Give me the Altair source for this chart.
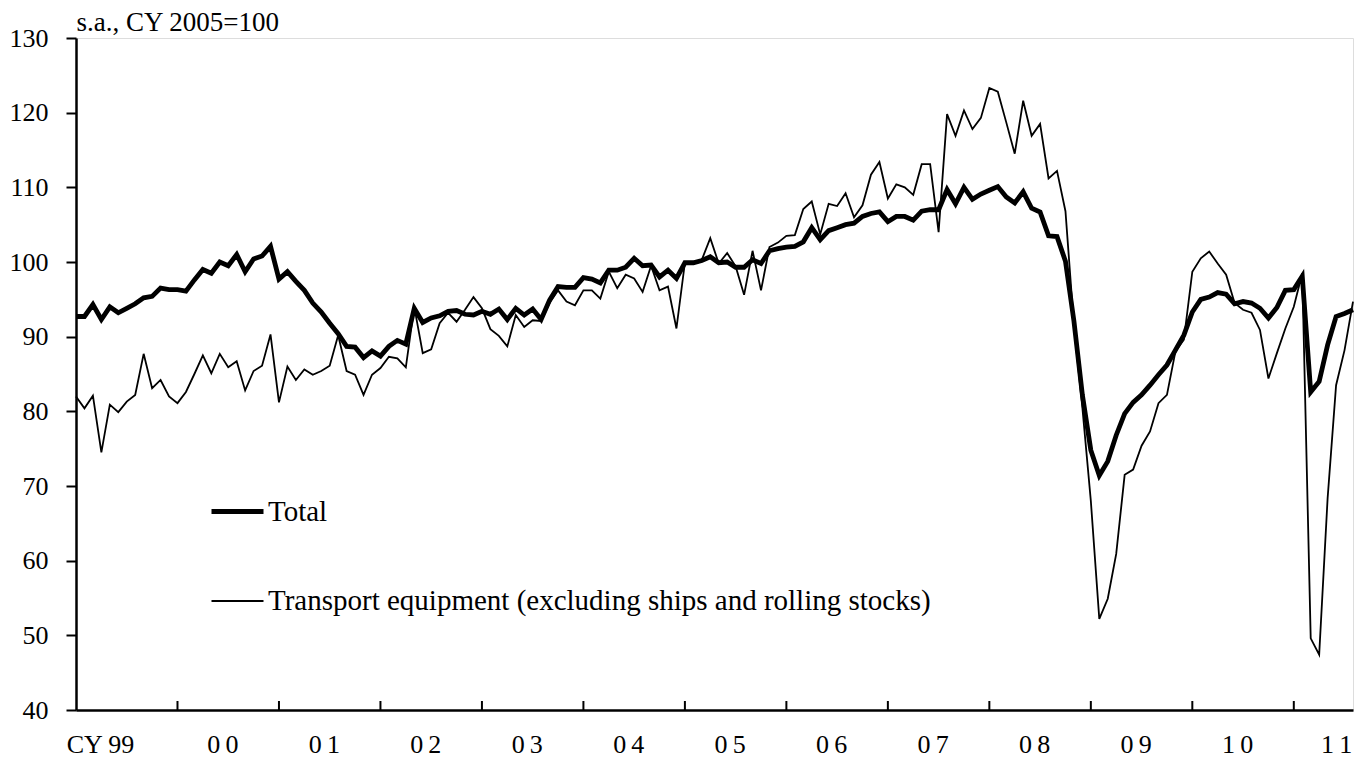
import json
import altair as alt
import pandas as pd

# month index: 0 = Jan 1999 ... 151 = Aug 2011
months = list(range(152))

total = [
    92.7, 92.7, 94.3, 92.3, 94.0, 93.2, 93.8, 94.4, 95.2, 95.4, 96.5, 96.3,
    96.3, 96.1, 97.6, 99.0, 98.5, 100.0, 99.5, 101.0, 98.7, 100.4, 100.8, 102.1,
    97.7, 98.7, 97.4, 96.2, 94.5, 93.3, 91.8, 90.4, 88.7, 88.6, 87.2, 88.1,
    87.4, 88.7, 89.5, 89.0, 93.8, 91.9, 92.5, 92.8, 93.4, 93.5, 93.0, 92.9,
    93.4, 93.0, 93.7, 92.3, 93.8, 92.9, 93.7, 92.3, 94.9, 96.7, 96.6, 96.6,
    97.9, 97.7, 97.2, 98.9, 98.9, 99.3, 100.5, 99.5, 99.6, 98.0, 98.9, 97.8,
    99.9, 99.9, 100.2, 100.7, 99.9, 100.0, 99.3, 99.3, 100.3, 99.8, 101.5, 101.8,
    102.0, 102.1, 102.7, 104.6, 103.0, 104.2, 104.6, 105.0, 105.2, 106.1, 106.5, 106.7,
    105.4, 106.1, 106.1, 105.6, 106.8, 107.0, 107.0, 109.7, 107.8, 110.0, 108.4, 109.1,
    109.6, 110.1, 108.7, 107.9, 109.4, 107.2, 106.7, 103.5, 103.4, 100.1, 92.1, 82.2,
    74.8, 71.4, 73.3, 76.8, 79.7, 81.2, 82.2, 83.5, 84.9, 86.2, 88.2, 90.2,
    93.3, 95.0, 95.3, 95.9, 95.7, 94.4, 94.7, 94.5, 93.8, 92.5, 93.9, 96.2,
    96.3, 98.1, 82.6, 84.0, 88.9, 92.7, 93.1, 93.6,
]

transport = [
    82.0, 80.4, 82.1, 74.5, 80.9, 79.9, 81.3, 82.2, 87.7, 83.1, 84.2, 82.0,
    81.1, 82.6, 85.0, 87.5, 85.1, 87.7, 85.9, 86.7, 82.8, 85.4, 86.1, 90.3,
    81.2, 86.0, 84.2, 85.6, 84.9, 85.4, 86.1, 90.2, 85.4, 84.9, 82.2, 84.9,
    85.8, 87.3, 87.1, 85.9, 94.0, 87.8, 88.3, 91.8, 93.2, 92.0, 93.6, 95.3,
    93.8, 91.0, 90.1, 88.7, 92.9, 91.3, 92.2, 92.1, 94.5, 96.2, 94.7, 94.2,
    96.2, 96.2, 95.1, 98.7, 96.5, 98.3, 97.8, 96.0, 99.5, 96.2, 96.7, 91.1,
    99.9, 100.0, 100.3, 103.2, 99.8, 101.2, 99.4, 95.6, 101.5, 96.2, 102.0, 102.6,
    103.5, 103.6, 107.1, 108.1, 103.7, 107.8, 107.5, 109.2, 106.0, 107.6, 111.7, 113.4,
    108.5, 110.4, 110.0, 109.0, 113.1, 113.1, 104.0, 119.8, 116.9, 120.3, 117.8, 119.3,
    123.3, 122.8, 118.7, 114.5, 121.6, 116.9, 118.5, 111.2, 112.2, 106.8, 91.5, 80.5,
    68.0, 52.2, 54.9, 60.9, 71.5, 72.2, 75.4, 77.3, 81.1, 82.2, 88.0, 89.6,
    98.7, 100.5, 101.4, 99.8, 98.3, 94.5, 93.6, 93.2, 90.9, 84.4, 87.8, 91.1,
    94.0, 98.5, 49.6, 47.4, 68.4, 83.5, 88.2, 94.7,
]

series_names = ["Total", "Transport equipment (excluding ships and rolling stocks)"]

year_tick_pos = [12, 24, 36, 48, 60, 72, 84, 96, 108, 120, 132, 144]
year_label_pos = [2.84, 17.3, 29.3, 41.3, 53.3, 65.3, 77.3, 89.3, 101.3, 113.3, 125.3, 137.3, 149.0]
year_labels = ["CY 99", "0\u20090", "0\u20091", "0\u20092", "0\u20093", "0\u20094", "0\u20095",
               "0\u20096", "0\u20097", "0\u20098", "0\u20099", "1\u20090", "1\u20091"]
y_ticks = [40, 50, 60, 70, 80, 90, 100, 110, 120, 130]

FONT = "Liberation Serif"
W, H = 1277, 672

rows = []
for name, vals in zip(series_names, [total, transport]):
    for m, v in zip(months, vals):
        rows.append({"m": m, "v": v, "series": name})
df = pd.DataFrame(rows)

label_expr = f"{json.dumps(year_labels)}[indexof({json.dumps(year_label_pos)}, datum.value)]"

x_enc = alt.X(
    "m:Q",
    title=None,
    scale=alt.Scale(domain=[0, 151], nice=False, zero=False),
    axis=alt.Axis(
        values=year_label_pos,
        labelExpr=label_expr,
        ticks=False,
        grid=False,
        domainColor="black",
        domainWidth=2.5,
        labelFont=FONT,
        labelFontSize=26,
        labelColor="black",
        labelPadding=21,
        labelFlush=False,
        labelOverlap=False,
    ),
)

lines = alt.Chart(df).mark_line(color="black").encode(
    x=x_enc,
    y=alt.Y(
        "v:Q",
        scale=alt.Scale(domain=[40, 130], nice=False, zero=False),
        axis=alt.Axis(
            values=y_ticks,
            title="s.a., CY 2005=100",
            titleAngle=0,
            titleX=0,
            titleY=-8,
            titleAlign="left",
            titleBaseline="alphabetic",
            titleFont=FONT,
            titleFontSize=27,
            titleFontWeight="normal",
            titleColor="black",
            grid=False,
            tickSize=10,
            tickWidth=2,
            tickColor="black",
            domainColor="black",
            domainWidth=2.5,
            labelFont=FONT,
            labelFontSize=26,
            labelColor="black",
            labelPadding=18,
        ),
    ),
    strokeWidth=alt.StrokeWidth(
        "series:N",
        scale=alt.Scale(domain=series_names, range=[4.8, 1.8]),
        legend=alt.Legend(
            title=None,
            orient="none",
            legendX=133,
            legendY=445,
            symbolType="stroke",
            symbolSize=2704,
            symbolStrokeColor="black",
            labelFont=FONT,
            labelFontSize=29,
            labelColor="black",
            labelOffset=2,
            labelLimit=1000,
            rowPadding=47,
            padding=0,
        ),
    ),
)

ticks_df = pd.DataFrame({"m": year_tick_pos})
ticks = alt.Chart(ticks_df).mark_rule(color="black", strokeWidth=2).encode(
    x=x_enc,
    y=alt.value(H),
    y2=alt.value(H - 9),
)

chart = (
    alt.layer(lines, ticks)
    .properties(
        width=W,
        height=H,
        autosize=alt.AutoSizeParams(type="none"),
        padding={"left": 68, "top": 30, "right": 3, "bottom": 48},
    )
    .configure_view(stroke="black", strokeWidth=2.5)
    .configure(background="white")
)

chart.save("out.html", embed_options={"renderer": "svg", "actions": False})
